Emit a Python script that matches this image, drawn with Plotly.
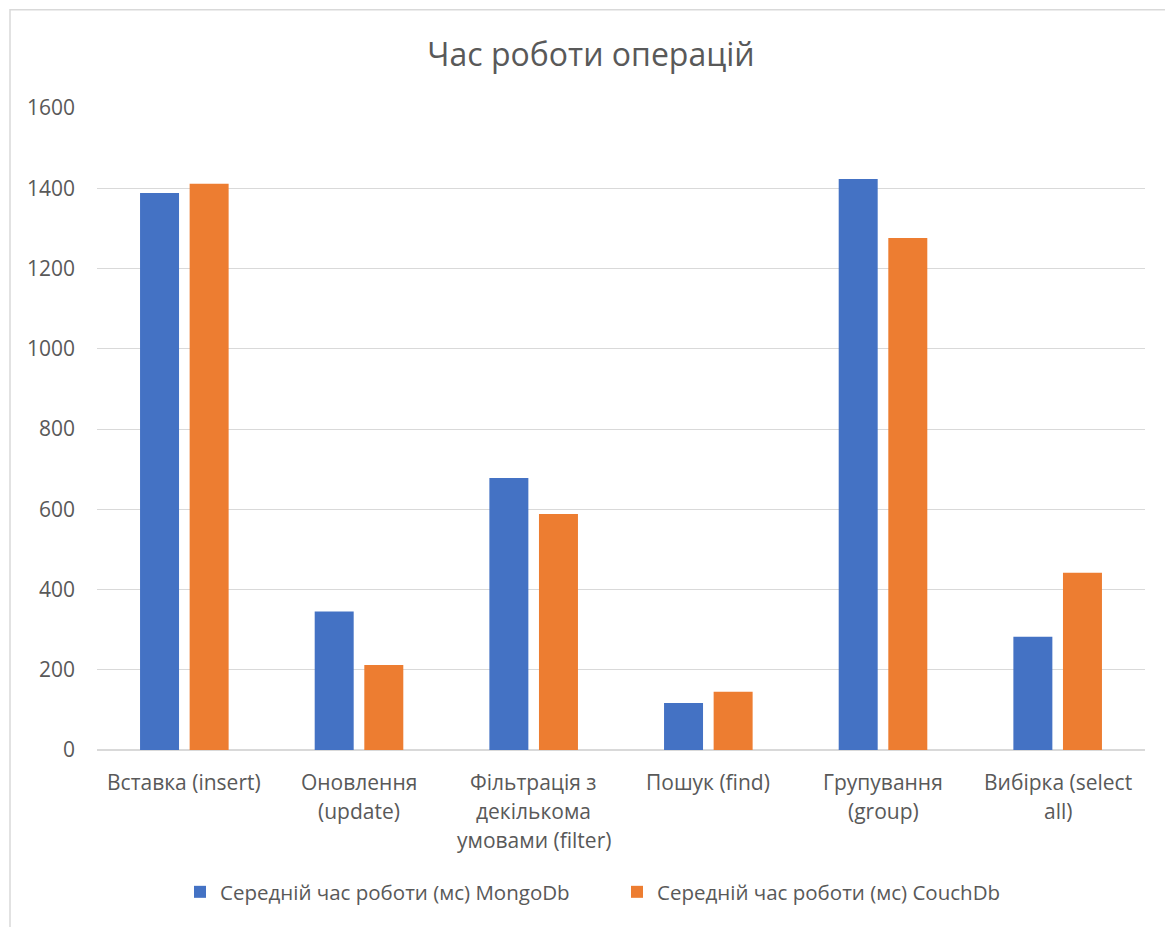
import plotly.graph_objects as go

categories = ["insert", "update", "filter", "find", "group", "select"]
category_lines = [
    ["Вставка (insert)"],
    ["Оновлення", "(update)"],
    ["Фільтрація з", "декількома", "умовами (filter)"],
    ["Пошук (find)"],
    ["Групування", "(group)"],
    ["Вибірка (select", "all)"],
]
mongo = [1388, 345, 678, 117, 1423, 282]
couch = [1411, 212, 588, 145, 1276, 442]
series_names = ["Середній час роботи (мс) MongoDb", "Середній час роботи (мс) CouchDb"]
title_text = "Час роботи операцій"
y_ticks = [0, 200, 400, 600, 800, 1000, 1200, 1400, 1600]

FONT = "Open Sans"
GREY = "#595959"
GRID = "#d9d9d9"

fig = go.Figure()
fig.add_trace(go.Bar(x=categories, y=mongo, name=series_names[0],
                     marker=dict(color="#4472C4", line=dict(width=0))))
fig.add_trace(go.Bar(x=categories, y=couch, name=series_names[1],
                     marker=dict(color="#ED7D31", line=dict(width=0))))

annotations = []
for cat, lines in zip(categories, category_lines):
    for i, line in enumerate(lines):
        annotations.append(dict(
            x=cat, xref="x", y=0, yref="paper", yanchor="middle",
            yshift=-32 - 29 * i, text=line, showarrow=False,
            font=dict(family=FONT, size=21, color=GREY)))

fig.update_layout(
    width=1165, height=927,
    margin=dict(l=97, r=20, t=108, b=177, autoexpand=False),
    paper_bgcolor="white", plot_bgcolor="white",
    barmode="group", bargap=0.432, bargroupgap=0.214,
    title=dict(text=title_text, x=591 / 1165, xanchor="center",
               y=1 - 55 / 927, yanchor="middle",
               font=dict(family=FONT, size=32, color=GREY)),
    xaxis=dict(showticklabels=False, showgrid=False, zeroline=False,
               showline=False, ticks=""),
    yaxis=dict(range=[0, 1600], tickvals=y_ticks, showgrid=True,
               gridcolor=GRID, gridwidth=1, zeroline=True, zerolinecolor=GRID,
               zerolinewidth=1.5, showline=False, ticklabelstandoff=21,
               tickfont=dict(family=FONT, size=21, color=GREY)),
    legend=dict(orientation="h", xref="container", x=180 / 1165, xanchor="left",
                yref="container", y=1 - 892 / 927, yanchor="middle",
                font=dict(family=FONT, size=20.5, color=GREY),
                itemwidth=30, traceorder="normal", entrywidth=392,
                entrywidthmode="pixels"),
    annotations=annotations,
    shapes=[dict(type="rect", xref="paper", yref="paper",
                 x0=(10 - 97) / 1048, x1=1.1, y0=-0.4, y1=(750 - 10) / 641.7,
                 line=dict(color=GRID, width=1.5), fillcolor="rgba(0,0,0,0)",
                 layer="below")],
    showlegend=True,
)

fig.write_html("out.html")
